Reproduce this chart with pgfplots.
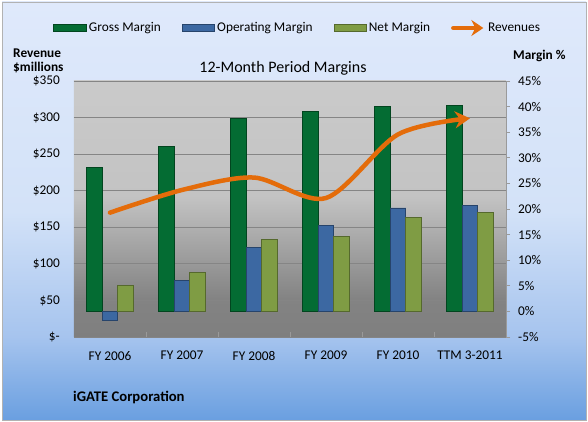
\documentclass[border=0pt]{standalone}
\usepackage{pgfplots}
\pgfplotsset{compat=1.18}
\usepackage{fontspec}
\setmainfont{Carlito}
\usetikzlibrary{arrows.meta}

\definecolor{gm}{HTML}{046C33}
\definecolor{gmd}{HTML}{02451F}
\definecolor{om}{HTML}{3C68A2}
\definecolor{omd}{HTML}{27446B}
\definecolor{nm}{HTML}{7F9C44}
\definecolor{nmd}{HTML}{55692D}
\definecolor{rev}{HTML}{E46C0A}
\definecolor{gridc}{HTML}{858585}
\definecolor{axisc}{HTML}{9A9A9A}
\definecolor{c0}{HTML}{6A9FE0}
\definecolor{c1}{HTML}{A6C4EE}
\definecolor{c2}{HTML}{D3E2F8}
\definecolor{c3}{HTML}{DFE9FB}
\definecolor{p0}{HTML}{7F7F7F}
\definecolor{p1}{HTML}{838383}
\definecolor{p2}{HTML}{C3C3C3}
\definecolor{p3}{HTML}{CACACA}

\pgfdeclareverticalshading{chartbg}{100bp}{color(0bp)=(c0); color(25bp)=(c0); color(35bp)=(c1); color(50bp)=(c2); color(75bp)=(c3); color(100bp)=(c3)}
\pgfdeclareverticalshading{plotbg}{100bp}{color(0bp)=(p0); color(25bp)=(p0); color(32.5bp)=(p1); color(52.5bp)=(p2); color(75bp)=(p3); color(100bp)=(p3)}

\newcommand{\tfont}{\fontsize{13.33}{16}\selectfont}

\begin{document}
\begin{tikzpicture}[x=1pt,y=1pt]
\fill[white] (0,0) rectangle (588,422);
\path[shading=chartbg, draw=black!30, line width=0.8pt] (2,2) rectangle (586,420);

% axis A: revenue scale, background, grid, left labels, categories
\begin{axis}[
  at={(74pt,85pt)}, anchor=south west, width=432pt, height=256pt, scale only axis,
  xmin=-0.5, xmax=5.5, ymin=0, ymax=350,
  axis background/.style={shading=plotbg},
  axis line style={draw=none},
  ytick={0,50,...,350},
  yticklabels={\$-,\$50,\$100,\$150,\$200,\$250,\$300,\$350},
  ymajorgrids, grid style={draw=gridc, line width=0.8pt},
  major tick length=0pt,
  xtick={0,...,5},
  xticklabels={FY 2006,FY 2007,FY 2008,FY 2009,FY 2010,TTM 3-2011},
  xtick pos=bottom, ytick pos=left,
  ticklabel style={font=\tfont, text=black},
  yticklabel style={inner sep=0pt, xshift=-14pt},
  xticklabel style={inner sep=0pt, yshift=-14pt, anchor=north},
  extra x ticks={0.5,1.5,2.5,3.5,4.5}, extra x tick labels={},
  extra x tick style={major tick length=5pt, tick style={draw=axisc}},
]
\end{axis}

% axis B: margins, bars, right axis
\begin{axis}[
  at={(74pt,85pt)}, anchor=south west, width=432pt, height=256pt, scale only axis,
  xmin=-0.5, xmax=5.5, ymin=-5, ymax=45,
  axis y line*=right, axis x line=none,
  y axis line style={draw=axisc, line width=0.8pt, -},
  ytick={-5,0,5,10,15,20,25,30,35,40,45},
  yticklabels={-5\%,0\%,5\%,10\%,15\%,20\%,25\%,30\%,35\%,40\%,45\%},
  tick align=outside, major tick length=4pt, ytick style={draw=axisc, line width=0.8pt},
  yticklabel style={font=\tfont, text=black, anchor=west, inner sep=0pt, xshift=8pt},
  ybar=0pt, bar width=15.7pt,
]
\addplot[fill=gm, draw=gmd, line width=0.8pt] coordinates {(0,28.1) (1,32.2) (2,37.6) (3,39.1) (4,40.0) (5,40.3)};
\addplot[fill=om, draw=omd, line width=0.8pt] coordinates {(0,-1.8) (1,6.05) (2,12.5) (3,16.7) (4,20.2) (5,20.7)};
\addplot[fill=nm, draw=nmd, line width=0.8pt] coordinates {(0,5.0) (1,7.56) (2,14.1) (3,14.6) (4,18.4) (5,19.4)};
\end{axis}

% axis C: revenue line on top, legend
\begin{axis}[
  at={(74pt,85pt)}, anchor=south west, width=432pt, height=256pt, scale only axis,
  xmin=-0.5, xmax=5.5, ymin=0, ymax=350,
  hide axis,
  legend columns=4,
  legend style={draw=none, fill=none, inner sep=0pt,
    at={(axis description cs:-0.0498,1.207)}, anchor=west,
    nodes={inner sep=0pt, font=\tfont},
    /tikz/every odd column/.append style={column sep=2.5pt},
    /tikz/every even column/.append style={column sep=21pt}},
]
\addlegendimage{legend image code/.code={\draw[fill=gm,draw=gmd,line width=0.8pt] (0pt,-3.8pt) rectangle (33pt,3.8pt);}}
\addlegendimage{legend image code/.code={\draw[fill=om,draw=omd,line width=0.8pt] (0pt,-3.8pt) rectangle (32pt,3.8pt);}}
\addlegendimage{legend image code/.code={\draw[fill=nm,draw=nmd,line width=0.8pt] (0pt,-3.8pt) rectangle (32pt,3.8pt);}}
\addplot[rev, line width=4.5pt, smooth, line cap=round,
  -{Stealth[length=15pt,width=17pt,inset=5pt]},
  legend image code/.code={\draw[rev,line width=4.5pt,-{Stealth[length=12pt,width=16pt,inset=4pt]}] (0pt,0pt) -- (30pt,0pt);}]
  coordinates {(0,170) (1,201) (2,218) (3,190) (4,277) (5,299)};
\legend{Gross Margin, Operating Margin, Net Margin, Revenues}
\end{axis}

\node[font=\fontsize{16}{19}\selectfont] at (283,354) {12-Month Period Margins};
\node[font=\tfont\bfseries, anchor=west, inner sep=0pt] at (13,369) {Revenue};
\node[font=\tfont\bfseries, anchor=west, inner sep=0pt] at (13,354) {\$millions};
\node[font=\tfont\bfseries, anchor=west, inner sep=0pt] at (513,366) {Margin \%};
\node[font=\fontsize{14.67}{17}\selectfont\bfseries, anchor=west, inner sep=0pt] at (73,25) {iGATE Corporation};
\end{tikzpicture}
\end{document}
